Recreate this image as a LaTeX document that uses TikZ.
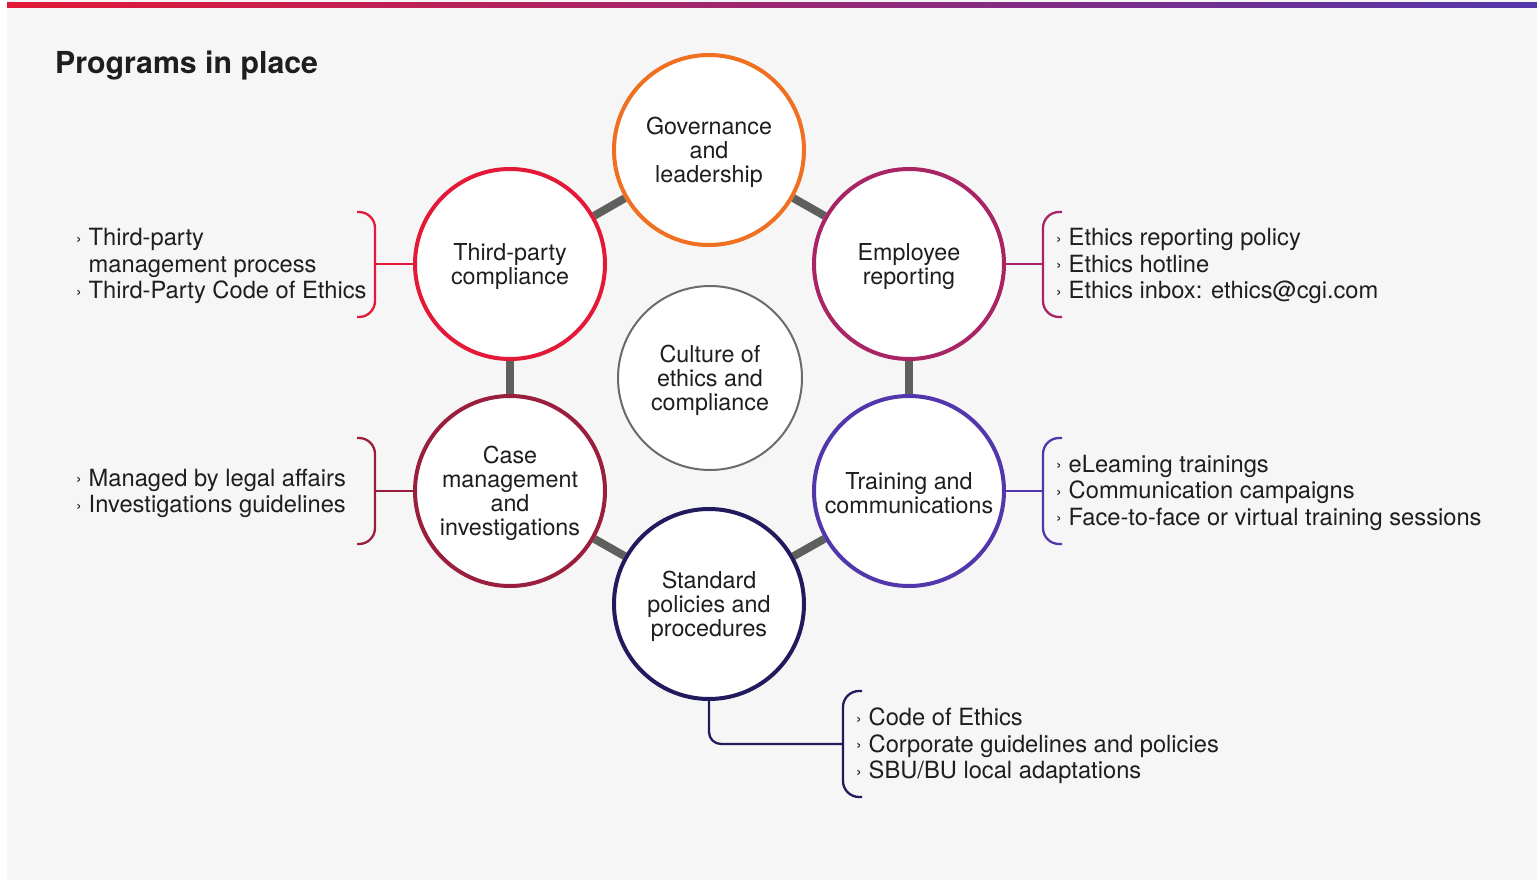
\documentclass[tikz,border=0pt]{standalone}
\usepackage{fontspec}
\setmainfont{TeX Gyre Heros}
\usetikzlibrary{backgrounds}
\definecolor{bg}{HTML}{F6F6F6}
\definecolor{txt}{HTML}{1E1E1E}
\definecolor{cgired}{HTML}{E31937}
\definecolor{cgipurple}{HTML}{5236AB}
\definecolor{corange}{HTML}{EF7021}
\definecolor{cmagenta}{HTML}{A82465}
\definecolor{cwine}{HTML}{991F3D}
\definecolor{cnavy}{HTML}{211A5C}
\definecolor{cgray}{HTML}{5E605E}
\definecolor{cring}{HTML}{6B6B6B}
\newcommand\bul{\makebox[12.5pt][l]{\raisebox{1.5pt}{\fontsize{17}{17}\selectfont ›}}}
\newcommand\ind{\hspace*{12.5pt}}
\tikzset{
  circ/.style={circle, fill=white, line width=4pt, minimum size=190pt, inner sep=0pt},
  ctext/.style={align=center, inner sep=0pt, text=txt, font=\fontsize{23.3}{24}\selectfont, yshift=-2.5pt},
  conn/.style={cgray, line width=8pt},
  brk/.style={line width=2.3pt, rounded corners=16pt},
  lst/.style={anchor=west, align=left, inner sep=0pt, text=txt, font=\fontsize{23.7}{26.5}\selectfont},
}
\begin{document}
\begin{tikzpicture}[x=1pt,y=-1pt]
\useasboundingbox (0,0) rectangle (1537,880);
\begin{scope}[on background layer]
  \fill[white] (0,0) rectangle (1537,880);
  \fill[bg] (7,0) rectangle (1537,880);
  \shade[left color=cgired, right color=cgipurple] (7,3) rectangle (1537,8);
\end{scope}

\node[anchor=west, inner sep=0pt, text=txt, font=\bfseries\fontsize{30.3}{30}\selectfont] (title) at (55,66) {Programs in place};

\node[circ, draw=corange] (gov) at (709,150) {};
\node[circ, draw=cgired] (tp) at (510,264) {};
\node[circ, draw=cmagenta] (emp) at (909,264) {};
\node[circ, draw=cwine] (case) at (510,491) {};
\node[circ, draw=cgipurple] (train) at (909,491) {};
\node[circ, draw=cnavy] (std) at (709,604) {};
\node[circ, draw=cring, line width=2pt, minimum size=184pt] (core) at (710,378) {};

\node[ctext] (govt) at (gov) {Governance\\and\\leadership};
\node[ctext] (tpt) at (tp) {Third-party\\compliance};
\node[ctext] (empt) at (emp) {Employee\\reporting};
\node[ctext] (caset) at (case) {Case\\management\\and\\investigations};
\node[ctext] (traint) at (train) {Training and\\communications};
\node[ctext] (stdt) at (std) {Standard\\policies and\\procedures};
\node[ctext] (coret) at (core) {Culture of\\ethics and\\compliance};

\begin{scope}[on background layer]
  \draw[conn] (gov) -- (tp);
  \draw[conn] (gov) -- (emp);
  \draw[conn] (tp) -- (case);
  \draw[conn] (emp) -- (train);
  \draw[conn] (case) -- (std);
  \draw[conn] (train) -- (std);
\end{scope}

% lists
\node[lst] (tplist) at (76,266) {\bul Third-party\\\ind management process\\\bul Third-Party Code of Ethics};
\node[lst] (caselist) at (76,493.5) {\bul Managed by legal affairs\\\bul Investigations guidelines};
\node[lst] (emplist) at (1056,266) {\bul Ethics reporting policy\\\bul Ethics hotline\\\bul Ethics inbox: ethics@cgi.com};
\node[lst] (trainlist) at (1056,492.5) {\bul eLeaming trainings\\\bul Communication campaigns\\\bul Face-to-face or virtual training sessions};
\node[lst] (stdlist) at (856,746) {\bul Code of Ethics\\\bul Corporate guidelines and policies\\\bul SBU/BU local adaptations};

% brackets
\coordinate (tpb) at (375,264);
\coordinate (caseb) at (375,491);
\coordinate (empb) at (1043,264);
\coordinate (trainb) at (1043,491);
\coordinate (stdb) at (843,744);

\draw[brk, cgired] (357,212) -- (375,212) -- (375,317) -- (357,317);
\draw[cgired, line width=2.3pt] (tp.west) -- (tpb);

\draw[brk, cwine] (357,438) -- (375,438) -- (375,544) -- (357,544);
\draw[cwine, line width=2.3pt] (case.west) -- (caseb);

\draw[brk, cmagenta] (1062,212) -- (1043,212) -- (1043,317) -- (1062,317);
\draw[cmagenta, line width=2.3pt] (emp.east) -- (empb);

\draw[brk, cgipurple] (1062,438) -- (1043,438) -- (1043,544) -- (1062,544);
\draw[cgipurple, line width=2.3pt] (train.east) -- (trainb);

\draw[brk, cnavy] (862,691) -- (843,691) -- (843,797) -- (862,797);
\draw[cnavy, line width=2.3pt, rounded corners=12pt] (std.south) -- (std.south |- stdb) -- (stdb);
\end{tikzpicture}
\end{document}
